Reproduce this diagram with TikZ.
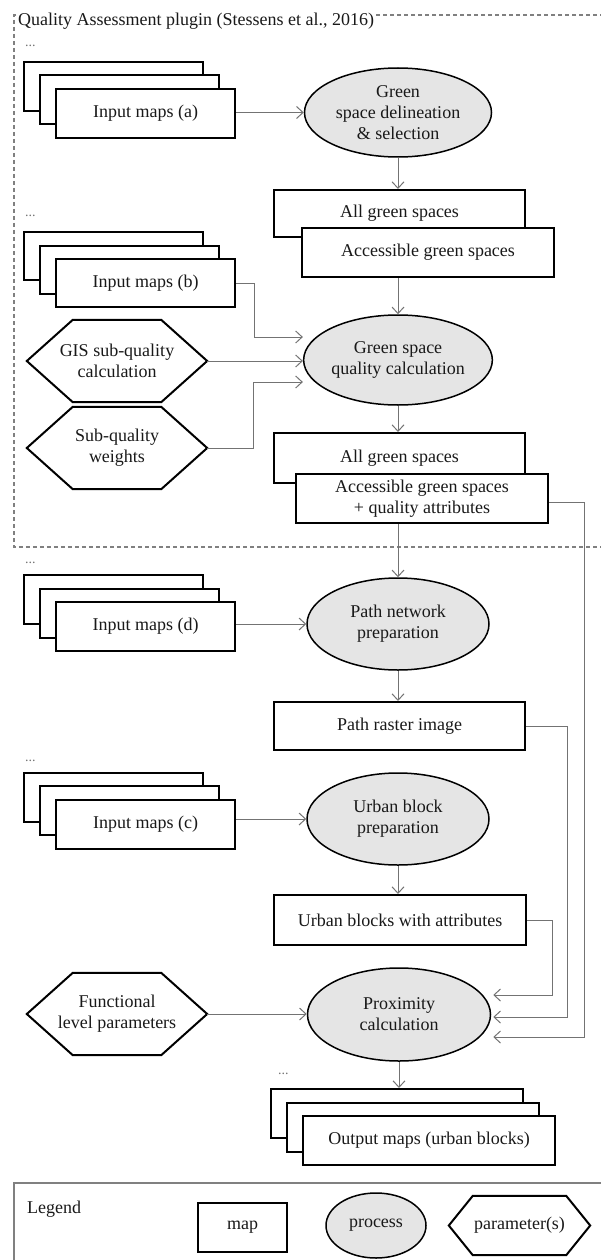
\documentclass[tikz,border=0pt]{standalone}
\usepackage{fontspec}
\setmainfont{Liberation Serif}
\usetikzlibrary{arrows.meta,shapes.geometric,calc}

\newcommand\MapStack[6]{%
  \node[mapbox, minimum width=#4, minimum height=#5] (#1-3) at (#2-32,#3-27) {};
  \node[mapbox, minimum width=#4, minimum height=#5] (#1-2) at (#2-16,#3-13.5) {};
  \node[mapbox, minimum width=#4, minimum height=#5] (#1) at (#2,#3) {#6};
}
\newcommand\HexNode[7]{%
  \node[hexlbl, minimum width=#4, minimum height=#5] (#1) at (#2,#3) {#7};
  \draw[hexline] (#1.west) -- ([xshift=#6]#1.north west) -- ([xshift=-#6]#1.north east)
     -- (#1.east) -- ([xshift=-#6]#1.south east) -- ([xshift=#6]#1.south west) -- cycle;
}

\begin{document}
\begin{tikzpicture}[x=1pt,y=-1pt,
  txt/.style={text=black!90, font=\fontsize{18}{21}\selectfont, align=center},
  mapbox/.style={txt, draw=black, line width=2pt, fill=white, inner sep=0pt},
  proc/.style={txt, ellipse, draw=black, line width=1.5pt, fill=black!10, inner sep=0pt},
  hexlbl/.style={txt, inner sep=0pt},
  hexline/.style={draw=black, line width=2pt, line join=miter},
  conn/.style={draw=black!55, line width=1pt},
  arr/.style={conn, -{Straight Barb[length=6.5pt,width=12pt]}},
  dots/.style={font=\fontsize{14}{14}\selectfont, text=black!55, inner sep=0pt, anchor=west},
  frame/.style={draw=black!50, line width=1.2pt, dash pattern=on 4pt off 3pt},
  legendline/.style={draw=black!50, line width=1.2pt},
]
\useasboundingbox (0,0) rectangle (601,1260);

% dashed plugin frame
\draw[frame] (604,15) -- (14,15) -- (14,547) -- (604,547);
\node[txt, anchor=base west, fill=white, inner xsep=1pt, inner ysep=0.5pt] (title) at (17,26)
  {Quality Assessment plugin (Stessens et al., 2016)};

% ---- input maps (a)
\node[dots] (dota) at (25,46) {...};
\MapStack{ina}{145.5}{113.5}{179}{49}{Input maps (a)}
\node[proc, minimum width=187, minimum height=89] (gsd) at (398,112.5)
  {Green\\space delineation\\\& selection};
\node[mapbox, minimum width=251, minimum height=47] (ags1) at (399.5,213.5) {All green spaces};
\node[mapbox, minimum width=252, minimum height=49] (acc1) at (428,252.5) {Accessible green spaces};
\draw[arr] (ina.east |- gsd.west) -- (gsd.west);
\draw[arr] (gsd.south) -- (gsd.south |- ags1.north);

% ---- quality calculation
\node[dots] (dotb) at (25,216) {...};
\MapStack{inb}{145.5}{283}{179}{48}{Input maps (b)}
\node[proc, minimum width=184, minimum height=90] (qual) at (398,360)
  {Green space\\quality calculation};
\HexNode{gis}{117}{361}{180}{82}{46}{GIS sub-quality\\calculation}
\HexNode{sqw}{117}{448}{180}{82}{46}{Sub-quality\\weights}
\draw[arr] (qual.north |- acc1.south) -- (qual.north);
\draw[arr] (inb.east) -- ++(18,0) |- ([yshift=23pt]qual.west);
\draw[arr] (gis.east) -- (gis.east -| qual.west);
\draw[arr] (sqw.east) -- ++(46,0) |- ([yshift=-22pt]qual.west);

\node[mapbox, minimum width=251, minimum height=50] (ags2) at (399.5,458) {All green spaces};
\node[mapbox, minimum width=252, minimum height=49] (acc2) at (422,498.5)
  {Accessible green spaces\\+ quality attributes};
\draw[arr] (qual.south) -- (qual.south |- ags2.north);

% ---- path network
\node[dots] (dotd) at (25,563) {...};
\MapStack{ind}{145.5}{626.5}{179}{49}{Input maps (d)}
\node[proc, minimum width=182, minimum height=92] (pne) at (398,624)
  {Path network\\preparation};
\draw[arr] (pne.north |- acc2.south) -- (pne.north);
\draw[arr] (ind.east |- pne.west) -- (pne.west);
\node[mapbox, minimum width=251, minimum height=48] (prb) at (399.5,726) {Path raster image};
\draw[arr] (pne.south) -- (pne.south |- prb.north);

% ---- urban blocks
\node[dots] (dotc) at (25,761) {...};
\MapStack{inc}{145.5}{824}{179}{49}{Input maps (c)}
\node[proc, minimum width=182, minimum height=92] (ube) at (398,819)
  {Urban block\\preparation};
\draw[arr] (inc.east |- ube.west) -- (ube.west);
\node[mapbox, minimum width=252, minimum height=50] (ubw) at (400,920) {Urban blocks with attributes};
\draw[arr] (ube.south) -- (ube.south |- ubw.north);

% ---- proximity
\node[proc, minimum width=183, minimum height=93] (prox) at (399,1014.5)
  {Proximity\\calculation};
\HexNode{flp}{117}{1014}{180}{82}{46}{Functional\\level parameters}
\draw[arr] (flp.east) -- (flp.east -| prox.west);
\draw[arr] (ubw.east) -- ++(25,0) |- ([xshift=2pt,yshift=19.5pt]prox.east);
\draw[arr] (prb.east) -- ++(41,0) |- ([xshift=2pt,yshift=-2.5pt]prox.east);
\draw[arr] ([yshift=-4pt]acc2.east) -- ++(35,0) |- ([xshift=2pt,yshift=-22.5pt]prox.east);

% ---- output
\node[dots] (doto) at (278,1074) {...};
\MapStack{out}{429}{1140.5}{252}{49}{Output maps (urban blocks)}
\draw[arr] (prox.south) -- (prox.south |- out-3.north);

% ---- legend
\draw[legendline] (608,1183) -- (14,1183) -- (14,1268);
\node[txt, anchor=base west, inner sep=0pt] (legtitle) at (27,1213) {Legend};
\node[mapbox, minimum width=89, minimum height=49] (lmap) at (242.5,1227.5) {map};
\node[proc, minimum width=100, minimum height=65] (lproc) at (376,1225.5) {process};
\HexNode{lpar}{519.5}{1225.5}{141}{59}{24}{parameter(s)}
\end{tikzpicture}
\end{document}
